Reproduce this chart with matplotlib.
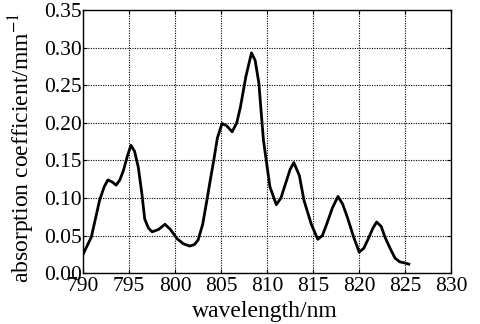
import matplotlib.pyplot as plt

# values
wavelength = [790.0, 790.9, 791.8, 792.3, 792.7, 793.2, 793.6, 794.0, 794.4, 794.8,
              795.2, 795.6, 796.0, 796.4, 796.7, 797.1, 797.5, 798.2, 798.9, 799.5,
              800.2, 800.9, 801.6, 802.1, 802.5, 803.0, 803.4, 803.8, 804.2, 804.6,
              805.1, 805.6, 806.2, 806.7, 807.1, 807.7, 808.3, 808.7, 809.1, 809.6,
              810.3, 811.0, 811.5, 812.0, 812.5, 812.9, 813.5, 814.0, 814.8, 815.5,
              816.0, 816.5, 817.1, 817.7, 818.2, 818.7, 819.4, 820.0, 820.5, 821.0,
              821.5, 821.9, 822.4, 822.8, 823.4, 823.9, 824.4, 824.8, 825.4]
absorption = [0.025, 0.048, 0.097, 0.115, 0.124, 0.121, 0.117, 0.124, 0.137, 0.155,
              0.170, 0.162, 0.141, 0.105, 0.072, 0.060, 0.055, 0.058, 0.065, 0.058,
              0.046, 0.039, 0.036, 0.038, 0.044, 0.065, 0.093, 0.122, 0.150, 0.180,
              0.199, 0.196, 0.188, 0.200, 0.221, 0.262, 0.293, 0.283, 0.253, 0.177,
              0.115, 0.091, 0.100, 0.119, 0.138, 0.147, 0.130, 0.097, 0.065, 0.045,
              0.050, 0.066, 0.087, 0.102, 0.092, 0.075, 0.048, 0.028, 0.033, 0.046,
              0.060, 0.068, 0.062, 0.048, 0.032, 0.020, 0.015, 0.014, 0.012]

x_ticks = [790, 795, 800, 805, 810, 815, 820, 825, 830]
y_ticks = [0.00, 0.05, 0.10, 0.15, 0.20, 0.25, 0.30, 0.35]

plt.rcParams["font.family"] = ["Liberation Serif", "DejaVu Serif"]
plt.rcParams["mathtext.fontset"] = "stix"

fig = plt.figure(figsize=(4.8, 3.24), dpi=100)
ax = fig.add_axes([0.173, 0.157, 0.767, 0.812])

ax.plot(wavelength, absorption, color="black", linewidth=2.0)

ax.set_xlim(790, 830)
ax.set_ylim(0, 0.35)
ax.set_xticks(x_ticks)
ax.set_yticks(y_ticks)
ax.set_yticklabels([f"{v:.2f}" for v in y_ticks])
ax.grid(True, color="black", linestyle=(0, (1, 1.2)), linewidth=0.8)
ax.tick_params(direction="in", top=True, right=True, labelsize=15.5, length=3)
ax.tick_params(axis="x", pad=3)
ax.tick_params(axis="y", pad=1)
for spine in ax.spines.values():
    spine.set_linewidth(1.0)

ax.set_xlabel("wavelength/nm", fontsize=17, va="top")
ax.xaxis.set_label_coords(0.495, -0.105)
ax.set_ylabel("absorption coefficient/mm$^{-1}$", fontsize=17)
ax.yaxis.set_label_coords(-0.125, 0.475)

fig.savefig("out.png", dpi=100)
